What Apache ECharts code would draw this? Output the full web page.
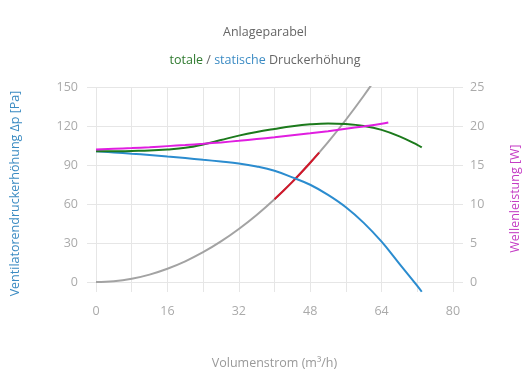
<!DOCTYPE html>
<html>
<head>
<meta charset="utf-8">
<script src="https://cdn.jsdelivr.net/npm/echarts@6/dist/echarts.min.js"></script>
<style>html,body{margin:0;padding:0;background:#fff}#c{width:530px;height:390px}</style>
</head>
<body>
<div id="c"></div>
<script>
// Volumenstrom (m³/h) sample positions
const flowX = [0, 4, 8, 12, 16, 20, 24, 28, 32, 36, 40, 44, 48, 52, 56, 60, 64, 68, 72, 73];
// statische Druckerhöhung [Pa]
const staticPa = [100.5, 99.7, 98.7, 97.7, 96.5, 95.3, 94, 92.7, 91.2, 88.9, 85.6, 80.5, 74.8, 67, 57.5, 45.5, 31, 14, -3, -7.5];
// totale Druckerhöhung [Pa]
const totalPa = [100.5, 100.5, 100.8, 101.1, 101.9, 103.2, 105.8, 109.2, 112.6, 115.4, 117.7, 119.8, 121.3, 122, 121.5, 120, 117, 112, 105.5, 103.5];
// Wellenleistung [W]
const powerX = [0, 4, 8, 12, 16, 20, 24, 28, 32, 36, 40, 44, 48, 52, 56, 60, 64, 65.5];
const powerW = [17.0, 17.08, 17.17, 17.28, 17.42, 17.56, 17.72, 17.9, 18.1, 18.32, 18.55, 18.8, 19.06, 19.34, 19.64, 19.95, 20.28, 20.45];
// Anlageparabel [Pa]
const parabolaX = [0, 4, 8, 12, 16, 20, 24, 28, 32, 36, 40, 44, 48, 52, 56, 60, 64];
const parabolaPa = [0, 0.6, 2.5, 5.7, 10.2, 15.9, 22.9, 31.2, 40.8, 51.6, 63.7, 77, 91.7, 107.6, 124.8, 143.3, 163];
// Betriebsbereich (red segment) [Pa]
const rangeX = [40, 42, 44, 46, 48, 50];
const rangePa = [63.7, 70.2, 77, 84.2, 91.7, 99.5];
// tick labels
const xLabels = [0, 16, 32, 48, 64, 80];
const leftTicks = [0, 30, 60, 90, 120, 150];
const rightTicks = [0, 5, 10, 15, 20, 25];

const pair = (xs, ys) => xs.map((x, i) => [x, ys[i]]);
const FONT = 'Open Sans';
const GRID = '#e6e6e6';
const LBL = '#aaaaaa';

const chart = echarts.init(document.getElementById('c'), null, {renderer: 'canvas'});
chart.setOption({
  animation: false,
  backgroundColor: '#ffffff',
  textStyle: {fontFamily: FONT},
  title: [
    {
      text: 'Anlageparabel', left: 'center', top: 24, padding: [0, 0, 0, 14],
      textStyle: {fontFamily: FONT, fontSize: 12.5, fontWeight: 'normal', color: '#666666', lineHeight: 16}
    },
    {
      text: '{g|totale} {d|/} {b|statische} {d|Druckerhöhung}', left: 'center', top: 52, padding: [0, 0, 0, 14],
      textStyle: {
        fontFamily: FONT, fontSize: 12.5, fontWeight: 'normal', color: '#666666', lineHeight: 16,
        rich: {
          g: {color: '#2f7a2f', fontFamily: FONT, fontSize: 12.5},
          b: {color: '#3d8cc4', fontFamily: FONT, fontSize: 12.5},
          d: {color: '#666666', fontFamily: FONT, fontSize: 12.5}
        }
      }
    }
  ],
  grid: {left: 96, right: 77, top: 87, bottom: 108, containLabel: false},
  xAxis: {
    type: 'value', min: 0, max: 80, interval: 8,
    name: 'Volumenstrom (m³/h)', nameLocation: 'middle', nameGap: 75,
    nameTextStyle: {color: '#999999', fontSize: 12.5, fontFamily: FONT},
    axisLine: {show: false},
    axisTick: {show: true, length: 10, lineStyle: {color: GRID}},
    splitLine: {show: true, lineStyle: {color: GRID, width: 1}},
    axisLabel: {
      color: LBL, fontSize: 12.5, fontFamily: FONT, margin: 23,
      formatter: v => (xLabels.indexOf(v) >= 0 ? String(v) : '')
    }
  },
  yAxis: [
    {
      type: 'value', min: leftTicks[0], max: leftTicks[leftTicks.length - 1], interval: 30, position: 'left',
      name: 'Ventilatorendruckerhöhung Δp [Pa]', nameLocation: 'middle', nameGap: 74,
      nameTextStyle: {color: '#3b8bc2', fontSize: 12.5, fontFamily: FONT, padding: [0, 18, 0, 0]},
      axisLine: {show: false},
      axisTick: {show: true, length: 9, lineStyle: {color: GRID}},
      splitLine: {show: true, lineStyle: {color: GRID, width: 1}},
      axisLabel: {color: LBL, fontSize: 12.5, fontFamily: FONT, margin: 18}
    },
    {
      type: 'value', min: rightTicks[0], max: rightTicks[rightTicks.length - 1], interval: 5, position: 'right',
      name: 'Wellenleistung [W]', nameLocation: 'middle', nameGap: 56,
      nameTextStyle: {color: '#c43cc4', fontSize: 12.5, fontFamily: FONT, padding: [0, 28, 0, 0]},
      axisLine: {show: false},
      axisTick: {show: true, length: 10, lineStyle: {color: GRID}},
      splitLine: {show: false},
      axisLabel: {color: LBL, fontSize: 12.5, fontFamily: FONT, margin: 17}
    }
  ],
  series: [
    {
      name: 'Anlageparabel', type: 'line', yAxisIndex: 0, data: pair(parabolaX, parabolaPa),
      showSymbol: false, smooth: 0.4, clip: true,
      lineStyle: {color: '#a3a3a3', width: 2}, itemStyle: {color: '#a3a3a3'}, z: 2
    },
    {
      name: 'Betriebsbereich', type: 'line', yAxisIndex: 0, data: pair(rangeX, rangePa),
      showSymbol: false, smooth: 0.4, clip: true,
      lineStyle: {color: '#d2172a', width: 2}, itemStyle: {color: '#d2172a'}, z: 3
    },
    {
      name: 'statische Druckerhöhung', type: 'line', yAxisIndex: 0, data: pair(flowX, staticPa),
      showSymbol: false, smooth: 0.4, clip: false,
      lineStyle: {color: '#2b8ccf', width: 2}, itemStyle: {color: '#2b8ccf'}, z: 4
    },
    {
      name: 'totale Druckerhöhung', type: 'line', yAxisIndex: 0, data: pair(flowX, totalPa),
      showSymbol: false, smooth: 0.4, clip: true,
      lineStyle: {color: '#1c7a1c', width: 2}, itemStyle: {color: '#1c7a1c'}, z: 5
    },
    {
      name: 'Wellenleistung', type: 'line', yAxisIndex: 1, data: pair(powerX, powerW),
      showSymbol: false, smooth: 0.4, clip: true,
      lineStyle: {color: '#e01ee0', width: 2}, itemStyle: {color: '#e01ee0'}, z: 6
    }
  ]
});
</script>
</body>
</html>
